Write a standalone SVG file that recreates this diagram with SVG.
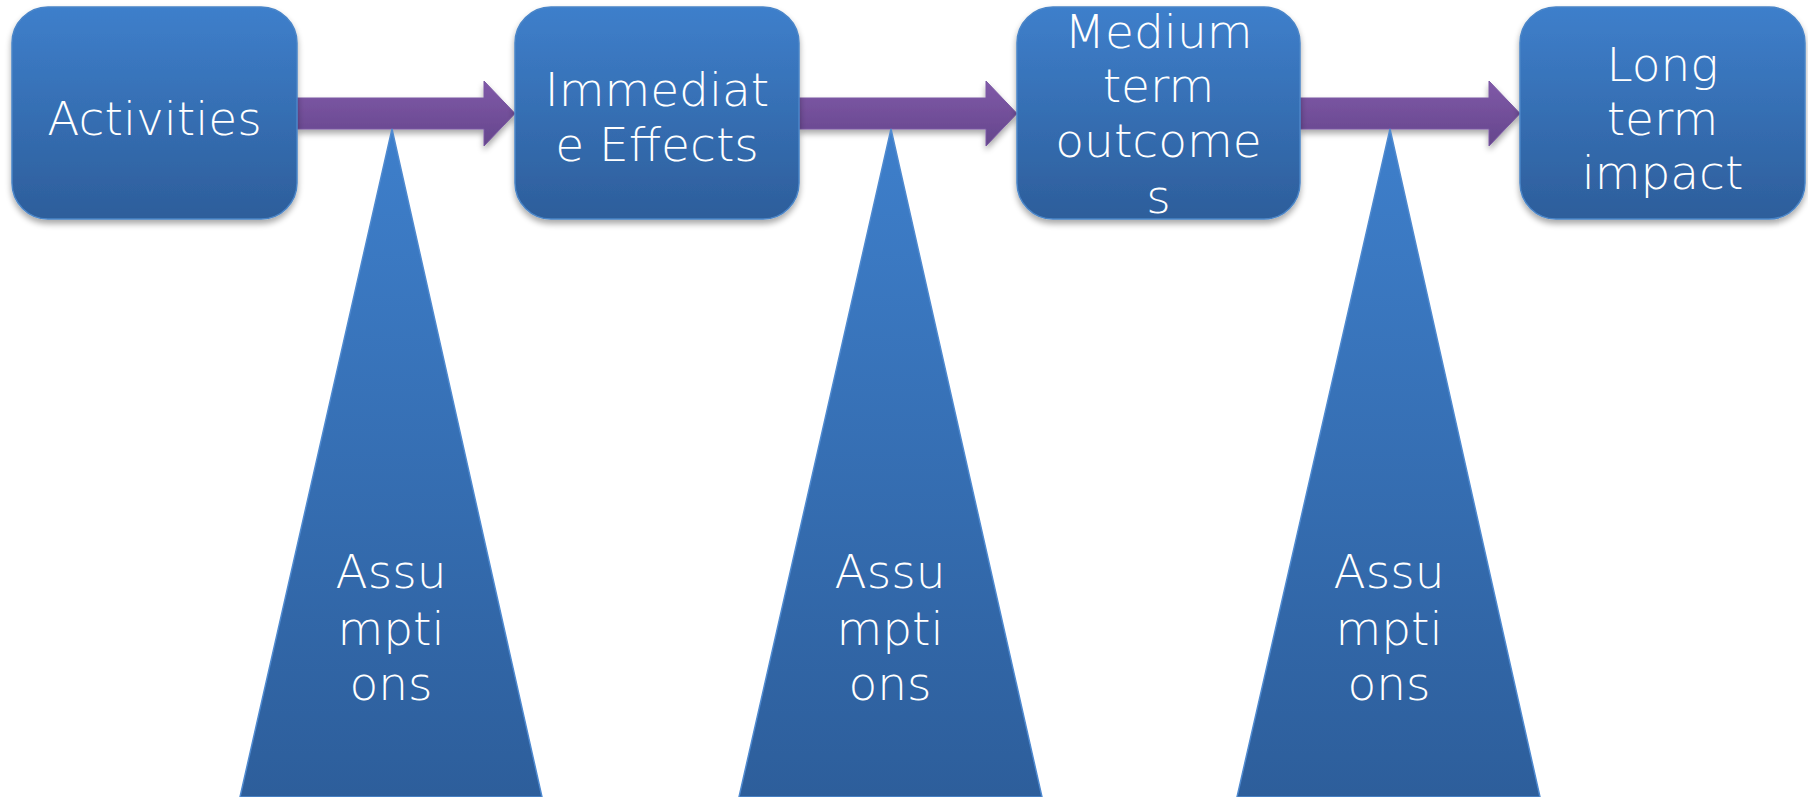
<svg xmlns="http://www.w3.org/2000/svg" width="1808" height="797" viewBox="0 0 1808 797">
<defs>
<linearGradient id="gBlue" x1="0" y1="0" x2="0" y2="1">
<stop offset="0" stop-color="#3e7fcb"/>
<stop offset="1" stop-color="#2d5e9b"/>
</linearGradient>
<linearGradient id="gPurple" x1="0" y1="0" x2="0" y2="1">
<stop offset="0" stop-color="#8059a8"/>
<stop offset="1" stop-color="#65468c"/>
</linearGradient>
<filter id="sh" x="-10%" y="-10%" width="120%" height="130%">
<feGaussianBlur in="SourceAlpha" stdDeviation="3"/>
<feOffset dx="0" dy="4" result="b"/>
<feComponentTransfer><feFuncA type="linear" slope="0.35"/></feComponentTransfer>
<feMerge><feMergeNode/><feMergeNode in="SourceGraphic"/></feMerge>
</filter>
</defs>
<style>
.box{fill:url(#gBlue);stroke:#4a85c8;stroke-width:1.5;filter:url(#sh)}
.tri{fill:url(#gBlue);stroke:#4f8ad0;stroke-width:1.5}
.arr{fill:url(#gPurple);stroke:#7a58a3;stroke-width:1;filter:url(#sh)}
.t{font-family:"DejaVu Sans",sans-serif;font-weight:200;font-size:47px;fill:#ffffff;text-anchor:middle}
</style>
<rect width="1808" height="797" fill="#ffffff"/>
<g id="connectors">
<path class="arr" d="M297,98 H484 V81 L515,113.5 L484,146 V129 H297 Z"/>
<path class="arr" d="M799,98 H986 V81 L1017,113.5 L986,146 V129 H799 Z"/>
<path class="arr" d="M1300,98 H1489 V81 L1520,113.5 L1489,146 V129 H1300 Z"/>
</g>
<g id="activities">
<rect class="box" x="12" y="7" width="285" height="212" rx="36"/>
<text class="t" x="154.5" y="135">Activities</text>
</g>
<g id="immediate">
<rect class="box" x="515" y="7" width="284" height="212" rx="36"/>
<text class="t" x="657" y="106">Immediat</text>
<text class="t" x="657" y="161">e Effects</text>
</g>
<g id="medium">
<rect class="box" x="1017" y="7" width="283" height="212" rx="36"/>
<text class="t" x="1158.5" y="48">Medium</text>
<text class="t" x="1158.5" y="102">term</text>
<text class="t" x="1158.5" y="157">outcome</text>
<text class="t" x="1158.5" y="213">s</text>
</g>
<g id="longterm">
<rect class="box" x="1520" y="7" width="285" height="212" rx="36"/>
<text class="t" x="1662.5" y="81">Long</text>
<text class="t" x="1662.5" y="135">term</text>
<text class="t" x="1662.5" y="189">impact</text>
</g>
<g id="assumptions1">
<polygon class="tri" points="392,129 542,797 240,797"/>
<text class="t" x="391" y="588">Assu</text>
<text class="t" x="391" y="645">mpti</text>
<text class="t" x="391" y="700">ons</text>
</g>
<g id="assumptions2">
<polygon class="tri" points="891,129 1042,797 739,797"/>
<text class="t" x="890" y="588">Assu</text>
<text class="t" x="890" y="645">mpti</text>
<text class="t" x="890" y="700">ons</text>
</g>
<g id="assumptions3">
<polygon class="tri" points="1390,129 1540,797 1237,797"/>
<text class="t" x="1389" y="588">Assu</text>
<text class="t" x="1389" y="645">mpti</text>
<text class="t" x="1389" y="700">ons</text>
</g>
</svg>
